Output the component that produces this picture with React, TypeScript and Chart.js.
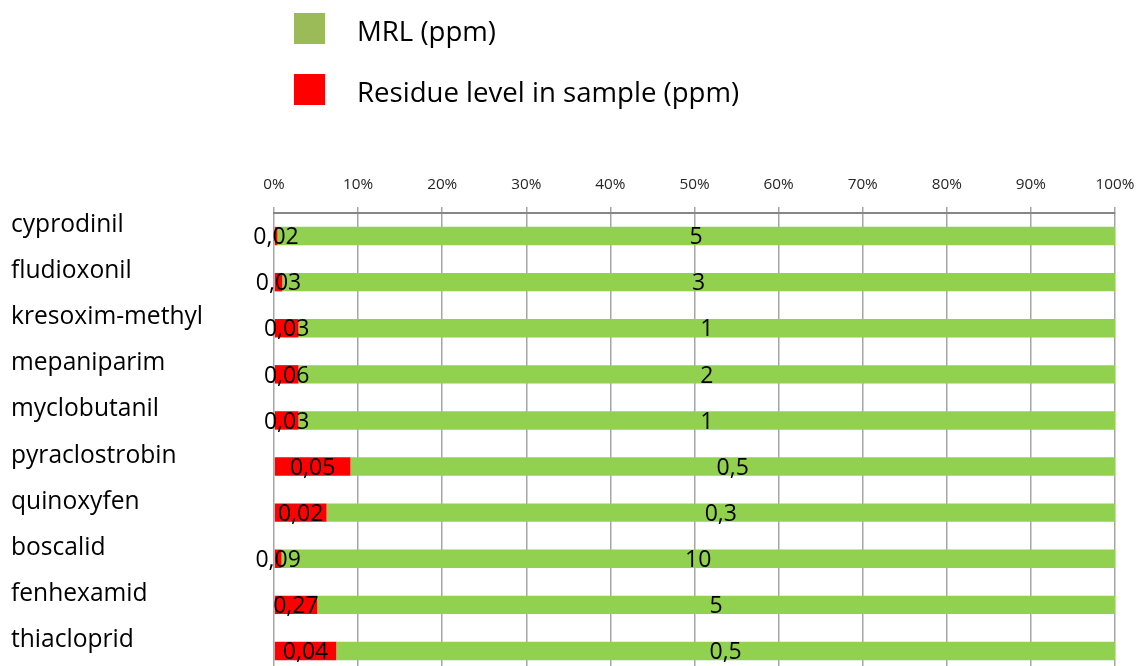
import React, { useEffect, useRef } from 'react';
import { Chart, registerables } from 'chart.js';

Chart.register(...registerables);

const categories = [
  'cyprodinil',
  'fludioxonil',
  'kresoxim-methyl',
  'mepaniparim',
  'myclobutanil',
  'pyraclostrobin',
  'quinoxyfen',
  'boscalid',
  'fenhexamid',
  'thiacloprid',
];

const mrlValues = [5, 3, 1, 2, 1, 0.5, 0.3, 10, 5, 0.5];
const residueValues = [0.02, 0.03, 0.03, 0.06, 0.03, 0.05, 0.02, 0.09, 0.27, 0.04];

const seriesNames = ['MRL (ppm)', 'Residue level in sample (ppm)'];
const xTickValues = [0, 10, 20, 30, 40, 50, 60, 70, 80, 90, 100];

const RED = '#FF0000';
const BAR_GREEN = '#92D050';
const LEGEND_GREEN = '#9BBB59';
const FONT = '"Open Sans", sans-serif';

const fmt = (v: number) => String(v).replace('.', ',');

const residueShare = residueValues.map((r, i) => (r / (r + mrlValues[i])) * 100);
const mrlShare = mrlValues.map((m, i) => (m / (m + residueValues[i])) * 100);

const valueLabelsPlugin = {
  id: 'valueLabels',
  afterDatasetsDraw(chart: any) {
    const ctx = chart.ctx;
    ctx.save();
    ctx.font = `23px ${FONT}`;
    ctx.fillStyle = '#000000';
    ctx.textAlign = 'center';
    ctx.textBaseline = 'alphabetic';
    chart.data.datasets.forEach((ds: any, di: number) => {
      const meta = chart.getDatasetMeta(di);
      meta.data.forEach((bar: any, i: number) => {
        const p = bar.getProps(['x', 'y', 'base'], true);
        const cx = (p.x + p.base) / 2;
        ctx.fillText(fmt(ds.rawValues[i]), cx, p.y + 8.2);
      });
    });
    ctx.restore();
  },
};

const legendPlugin = {
  id: 'customLegend',
  afterDraw(chart: any) {
    const ctx = chart.ctx;
    ctx.save();
    const items = [
      { text: seriesNames[0], color: LEGEND_GREEN, top: 13 },
      { text: seriesNames[1], color: RED, top: 74 },
    ];
    ctx.font = `27.6px ${FONT}`;
    ctx.textAlign = 'left';
    ctx.textBaseline = 'alphabetic';
    items.forEach((it) => {
      ctx.fillStyle = it.color;
      ctx.fillRect(294, it.top, 31, 31);
      ctx.fillStyle = '#000000';
      ctx.fillText(it.text, 357, it.top + 27.5);
    });
    ctx.restore();
  },
};

export default function App() {
  const canvasRef = useRef<HTMLCanvasElement | null>(null);

  useEffect(() => {
    if (!canvasRef.current) return;
    const chart = new Chart(canvasRef.current, {
      type: 'bar',
      data: {
        labels: categories,
        datasets: [
          {
            label: seriesNames[1],
            data: residueShare,
            rawValues: residueValues,
            backgroundColor: RED,
            borderWidth: 0,
            barPercentage: 0.4,
            categoryPercentage: 1,
          } as any,
          {
            label: seriesNames[0],
            data: mrlShare,
            rawValues: mrlValues,
            backgroundColor: BAR_GREEN,
            borderWidth: 0,
            barPercentage: 0.4,
            categoryPercentage: 1,
          } as any,
        ],
      },
      options: {
        indexAxis: 'y',
        responsive: false,
        animation: false,
        devicePixelRatio: 1,
        layout: { padding: { top: 150, left: 11, right: 23, bottom: 16 } },
        plugins: {
          legend: { display: false },
          tooltip: { enabled: false },
        },
        scales: {
          x: {
            position: 'top',
            stacked: true,
            min: 0,
            max: 100,
            afterBuildTicks: (scale: any) => {
              scale.ticks = xTickValues.map((v) => ({ value: v }));
            },
            ticks: {
              callback: (v: any) => `${v}%`,
              font: { family: FONT, size: 15.3 },
              color: '#262626',
              padding: 13,
              maxRotation: 0,
              autoSkip: false,
            },
            grid: {
              color: '#A6A6A6',
              lineWidth: 1.5,
              tickLength: 6,
              tickColor: '#A6A6A6',
            },
            border: { color: '#868686', width: 2 },
            afterFit: (scale: any) => {
              scale.height = 63;
              scale.paddingLeft = 0;
              scale.paddingRight = 0;
            },
          },
          y: {
            position: 'left',
            stacked: true,
            grid: { display: false, drawTicks: false },
            border: { display: false },
            ticks: {
              crossAlign: 'far',
              font: { family: FONT, size: 24.6 },
              color: '#000000',
              labelOffset: -11,
              padding: 0,
              autoSkip: false,
            },
            afterFit: (scale: any) => {
              scale.width = 263;
              scale.paddingTop = 0;
              scale.paddingBottom = 0;
            },
          },
        },
      } as any,
      plugins: [valueLabelsPlugin, legendPlugin],
    });
    return () => chart.destroy();
  }, []);

  return (
    <div
      style={{
        position: 'fixed',
        left: 0,
        top: 0,
        width: 1138,
        height: 666,
        overflow: 'hidden',
        background: '#ffffff',
      }}
    >
      <canvas ref={canvasRef} width={1138} height={690} style={{ display: 'block' }} />
    </div>
  );
}
